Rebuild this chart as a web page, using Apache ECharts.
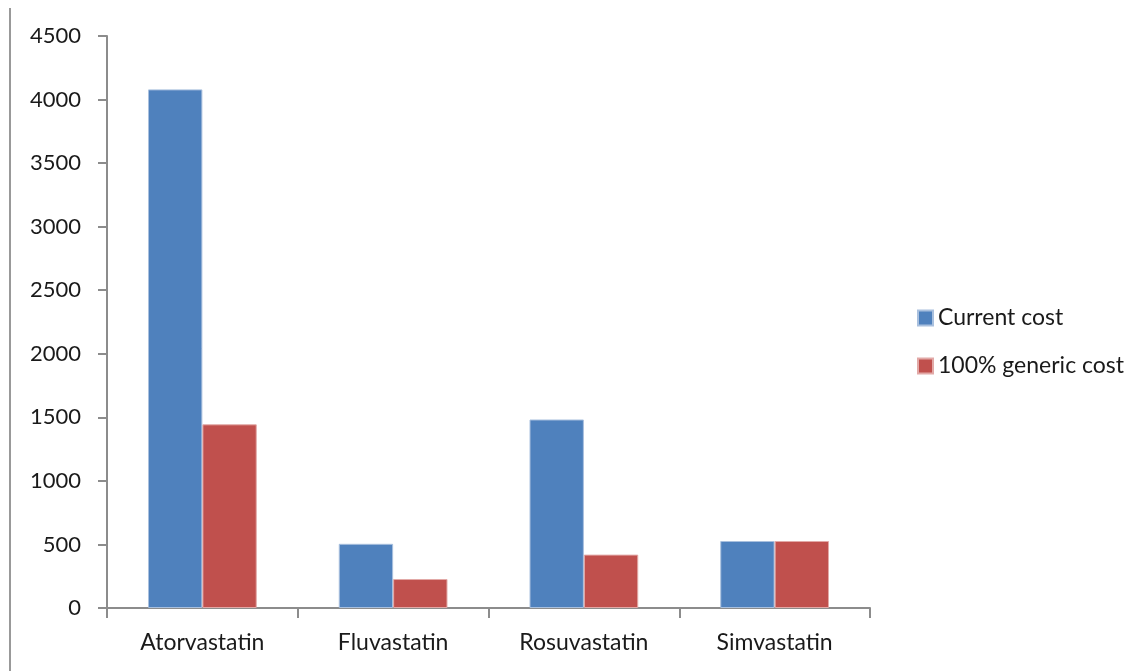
<!DOCTYPE html>
<html>
<head>
<meta charset="utf-8">
<script src="https://cdn.jsdelivr.net/npm/echarts@6/dist/echarts.min.js"></script>
<style>
  html, body { margin: 0; padding: 0; background: #fff; }
  #chart { width: 1145px; height: 671px; }
</style>
</head>
<body>
<div id="chart"></div>
<script>
// Statin spending: current cost vs. cost if fully switched to generics
const categories = ['Atorvastatin', 'Fluvastatin', 'Rosuvastatin', 'Simvastatin'];
const currentCost = [4080, 505, 1483, 527];
const genericCost = [1445, 228, 420, 527];
const yTicks = { min: 0, max: 4500, interval: 500 };

const FONT = 'Lato, "Open Sans", sans-serif';
const TEXT = '#1a1a1a';
const AXIS = '#8c8c8c';

const chart = echarts.init(document.getElementById('chart'), null, { renderer: 'canvas' });

chart.setOption({
  animation: false,
  backgroundColor: '#ffffff',
  textStyle: { fontFamily: FONT },
  grid: { left: 107, right: 275, top: 36, bottom: 63, containLabel: false },
  legend: {
    orient: 'vertical',
    left: 912,
    top: 301,
    icon: 'rect',
    itemWidth: 15,
    itemHeight: 15,
    itemGap: 24,
    textStyle: { fontFamily: FONT, fontSize: 23, color: TEXT, lineHeight: 24 },
    data: ['Current cost', '100% generic cost']
  },
  xAxis: {
    type: 'category',
    data: categories,
    axisLine: { lineStyle: { color: AXIS, width: 2 } },
    axisTick: { show: true, length: 10, lineStyle: { color: AXIS, width: 2 } },
    axisLabel: { fontFamily: FONT, fontSize: 23, color: TEXT, margin: 23 }
  },
  yAxis: {
    type: 'value',
    min: yTicks.min,
    max: yTicks.max,
    interval: yTicks.interval,
    axisLine: { show: true, lineStyle: { color: AXIS, width: 2 } },
    axisTick: { show: true, inside: false, length: 9, lineStyle: { color: AXIS, width: 2 } },
    splitLine: { show: false },
    axisLabel: {
      fontFamily: FONT, fontSize: 22, color: TEXT, margin: 26,
      formatter: (v) => String(v)
    }
  },
  series: [
    {
      name: 'Current cost',
      type: 'bar',
      data: currentCost,
      barGap: '0%',
      barCategoryGap: '43%',
      itemStyle: { color: '#4F81BD', borderColor: '#a9c0de', borderWidth: 1 }
    },
    {
      name: '100% generic cost',
      type: 'bar',
      data: genericCost,
      barGap: '0%',
      barCategoryGap: '43%',
      itemStyle: { color: '#C0504D', borderColor: '#e2a9a7', borderWidth: 1 }
    }
  ],
  graphic: [
    {
      type: 'line',
      shape: { x1: 10, y1: 8, x2: 10, y2: 671 },
      style: { stroke: '#999999', lineWidth: 2 }
    }
  ]
});
</script>
</body>
</html>
